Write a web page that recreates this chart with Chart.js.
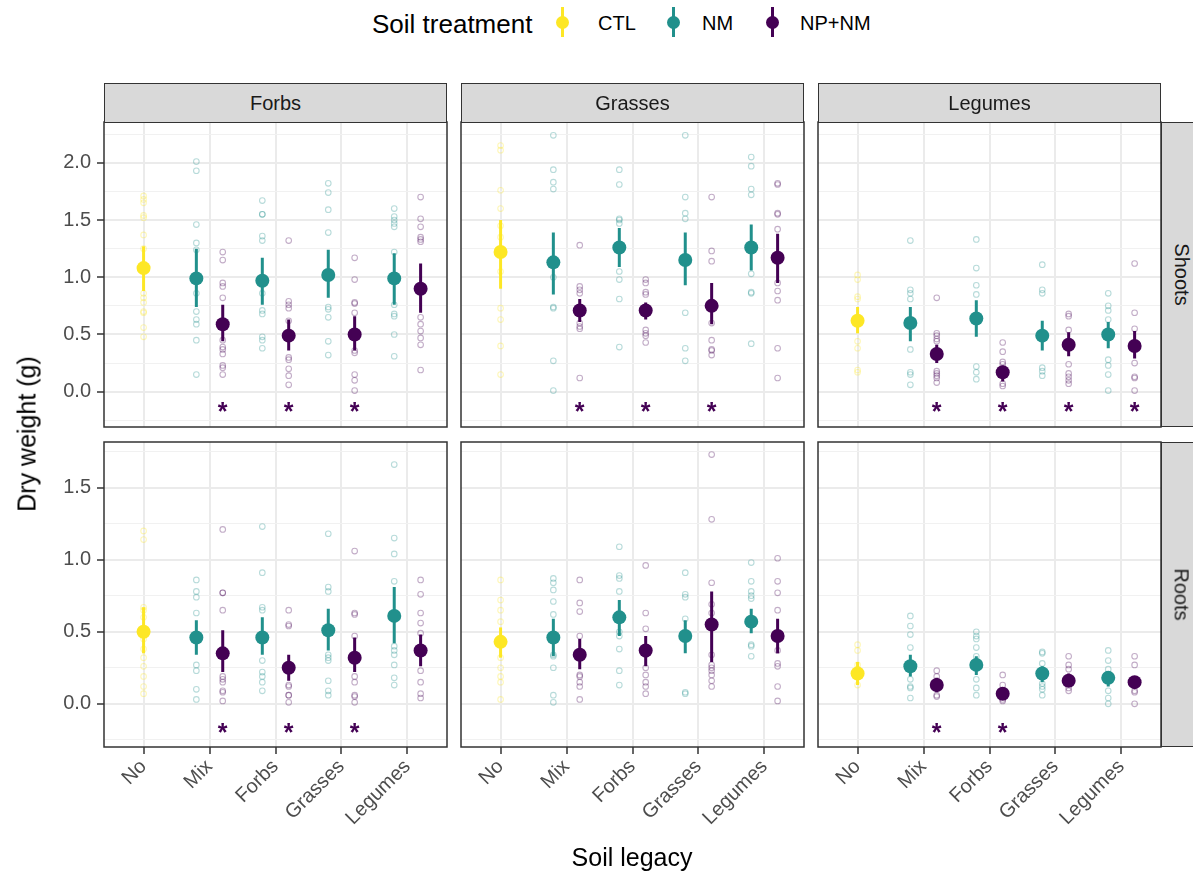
<!DOCTYPE html>
<html>
<head>
<meta charset="utf-8">
<title>Dry weight by soil legacy and treatment</title>
<script src="https://cdn.jsdelivr.net/npm/chart.js@4.4.1/dist/chart.umd.min.js"></script>
<style>
  html, body { margin: 0; padding: 0; background: #ffffff; }
  body { position: relative; width: 1193px; height: 873px; overflow: hidden;
         font-family: "Liberation Sans", Arial, Helvetica, sans-serif; }
  canvas { position: absolute; }
  .strip { position: absolute; box-sizing: border-box; background: #D9D9D9;
           border: 1.5px solid #333333; color: #1A1A1A; font-size: 20px;
           display: flex; align-items: center; justify-content: center; }
  .strip.side span { display: inline-block; transform: rotate(90deg); white-space: nowrap; }
  .title { position: absolute; color: #000; font-size: 25px; white-space: nowrap; }
  .legend-title { position: absolute; left: 372px; top: 9px; font-size: 26px; color: #000; white-space: nowrap; }
  .key { position: absolute; }
  .key .bar { position: absolute; width: 3px; height: 30px; top: 7px; }
  .key .dot { position: absolute; width: 13px; height: 13px; border-radius: 50%; top: 16px; }
  .key-label { position: absolute; top: 12px; font-size: 20px; color: #000; white-space: nowrap; }
</style>
</head>
<body>
<script>
// ---- categories and labels ----
const categories = ['No', 'Mix', 'Forbs', 'Grasses', 'Legumes'];
const treatments = ['CTL', 'NM', 'NP+NM'];
const treatmentColors = ['#FDE725', '#21908C', '#440154'];
const plantGroups = ['Forbs', 'Grasses', 'Legumes'];
const organs = ['Shoots', 'Roots'];
const shootTicks = [0, 0.5, 1, 1.5, 2];
const rootTicks = [0, 0.5, 1, 1.5];
const starLevel = [-0.13, -0.17];

// group order inside every panel
const groupCategory = ['No', 'Mix', 'Mix', 'Forbs', 'Forbs', 'Grasses', 'Grasses', 'Legumes', 'Legumes'];
const groupTreatment = ['CTL', 'NM', 'NP+NM', 'NM', 'NP+NM', 'NM', 'NP+NM', 'NM', 'NP+NM'];

// ---- Shoots / Forbs ----
const shootsForbsMean = [1.08, 0.99, 0.59, 0.97, 0.49, 1.02, 0.50, 0.99, 0.90];
const shootsForbsLow  = [0.88, 0.74, 0.44, 0.76, 0.36, 0.82, 0.36, 0.76, 0.69];
const shootsForbsHigh = [1.27, 1.25, 0.76, 1.17, 0.63, 1.24, 0.66, 1.21, 1.12];
const shootsForbsRaw = [
  [1.71, 1.68, 1.65, 1.54, 1.52, 1.37, 1.25, 1.10, 0.86, 0.82, 0.78, 0.70, 0.69, 0.56, 0.48],
  [2.01, 1.93, 1.46, 1.30, 1.24, 0.86, 0.70, 0.63, 0.59, 0.45, 0.15],
  [1.22, 1.15, 0.95, 0.92, 0.82, 0.45, 0.39, 0.37, 0.33, 0.23, 0.21, 0.15],
  [1.67, 1.55, 1.55, 1.36, 1.32, 0.86, 0.71, 0.68, 0.48, 0.45, 0.38],
  [1.32, 0.79, 0.76, 0.73, 0.62, 0.30, 0.28, 0.20, 0.14, 0.06],
  [1.82, 1.74, 1.59, 1.39, 0.74, 0.72, 0.65, 0.44, 0.32],
  [1.17, 0.98, 0.78, 0.77, 0.69, 0.36, 0.34, 0.15, 0.10, 0.01],
  [1.60, 1.53, 1.50, 1.47, 1.44, 1.22, 0.76, 0.68, 0.66, 0.50, 0.31],
  [1.70, 1.51, 1.44, 1.35, 1.33, 1.31, 0.65, 0.59, 0.53, 0.47, 0.41, 0.19]
];
const shootsForbsStars = ['Mix', 'Forbs', 'Grasses'];

// ---- Shoots / Grasses ----
const shootsGrassesMean = [1.22, 1.13, 0.71, 1.26, 0.71, 1.15, 0.75, 1.26, 1.17];
const shootsGrassesLow  = [0.90, 0.85, 0.61, 1.09, 0.63, 0.93, 0.59, 1.06, 0.95];
const shootsGrassesHigh = [1.50, 1.39, 0.81, 1.43, 0.78, 1.39, 0.95, 1.46, 1.38];
const shootsGrassesRaw = [
  [2.15, 2.11, 1.76, 1.60, 1.45, 1.35, 1.22, 1.05, 0.73, 0.63, 0.40, 0.15],
  [2.24, 1.94, 1.83, 1.77, 1.00, 0.74, 0.73, 0.27, 0.01],
  [1.28, 0.92, 0.89, 0.86, 0.60, 0.57, 0.55, 0.12],
  [1.94, 1.81, 1.51, 1.50, 1.47, 1.05, 0.98, 0.81, 0.39],
  [0.98, 0.95, 0.87, 0.85, 0.54, 0.51, 0.49, 0.43],
  [2.24, 1.70, 1.56, 1.51, 0.69, 0.38, 0.27],
  [1.70, 1.23, 1.14, 0.60, 0.45, 0.37, 0.36, 0.32],
  [2.05, 1.97, 1.77, 1.72, 1.03, 0.87, 0.86, 0.42],
  [1.82, 1.81, 1.56, 1.55, 1.42, 0.95, 0.88, 0.80, 0.38, 0.12]
];
const shootsGrassesStars = ['Mix', 'Forbs', 'Grasses'];

// ---- Shoots / Legumes ----
const shootsLegumesMean = [0.62, 0.60, 0.33, 0.64, 0.17, 0.49, 0.41, 0.50, 0.40];
const shootsLegumesLow  = [0.51, 0.44, 0.25, 0.48, 0.09, 0.36, 0.31, 0.38, 0.29];
const shootsLegumesHigh = [0.74, 0.74, 0.41, 0.80, 0.23, 0.62, 0.52, 0.61, 0.53];
const shootsLegumesRaw = [
  [1.02, 0.98, 0.83, 0.81, 0.44, 0.38, 0.19, 0.17],
  [1.32, 0.89, 0.86, 0.81, 0.37, 0.17, 0.15, 0.06],
  [0.82, 0.51, 0.49, 0.46, 0.44, 0.18, 0.16, 0.14, 0.12, 0.08],
  [1.33, 1.08, 0.93, 0.85, 0.22, 0.17, 0.11],
  [0.43, 0.35, 0.26, 0.24, 0.07, 0.05],
  [1.11, 0.89, 0.86, 0.21, 0.18, 0.14],
  [0.68, 0.66, 0.54, 0.24, 0.16, 0.13, 0.10, 0.07],
  [0.86, 0.75, 0.71, 0.63, 0.28, 0.23, 0.15, 0.01],
  [1.12, 0.69, 0.55, 0.25, 0.13, 0.12, 0.01]
];
const shootsLegumesStars = ['Mix', 'Forbs', 'Grasses', 'Legumes'];

// ---- Roots / Forbs ----
const rootsForbsMean = [0.50, 0.46, 0.35, 0.46, 0.25, 0.51, 0.32, 0.61, 0.37];
const rootsForbsLow  = [0.35, 0.34, 0.22, 0.34, 0.16, 0.37, 0.22, 0.42, 0.26];
const rootsForbsHigh = [0.67, 0.58, 0.51, 0.60, 0.34, 0.66, 0.46, 0.81, 0.48];
const rootsForbsRaw = [
  [1.20, 1.14, 0.67, 0.65, 0.60, 0.45, 0.38, 0.32, 0.26, 0.19, 0.12, 0.07],
  [0.86, 0.78, 0.74, 0.63, 0.27, 0.23, 0.10, 0.03],
  [1.21, 0.77, 0.77, 0.65, 0.19, 0.17, 0.15, 0.09, 0.08, 0.02],
  [1.23, 0.91, 0.67, 0.65, 0.30, 0.22, 0.19, 0.15, 0.09],
  [0.65, 0.55, 0.54, 0.13, 0.12, 0.06, 0.06, 0.01],
  [1.18, 0.81, 0.78, 0.34, 0.32, 0.30, 0.16, 0.09, 0.06],
  [1.06, 0.63, 0.62, 0.47, 0.19, 0.15, 0.06, 0.05, 0.01],
  [1.66, 1.15, 1.04, 0.85, 0.40, 0.37, 0.34, 0.27, 0.18, 0.13],
  [0.86, 0.76, 0.63, 0.56, 0.49, 0.23, 0.15, 0.07, 0.04]
];
const rootsForbsStars = ['Mix', 'Forbs', 'Grasses'];

// ---- Roots / Grasses ----
const rootsGrassesMean = [0.43, 0.46, 0.34, 0.60, 0.37, 0.47, 0.55, 0.57, 0.47];
const rootsGrassesLow  = [0.32, 0.33, 0.24, 0.47, 0.26, 0.35, 0.29, 0.49, 0.35];
const rootsGrassesHigh = [0.53, 0.59, 0.45, 0.72, 0.47, 0.58, 0.78, 0.66, 0.59];
const rootsGrassesRaw = [
  [0.86, 0.72, 0.65, 0.57, 0.32, 0.25, 0.19, 0.15, 0.03],
  [0.87, 0.84, 0.79, 0.71, 0.62, 0.34, 0.33, 0.25, 0.06, 0.01],
  [0.86, 0.70, 0.64, 0.47, 0.20, 0.19, 0.15, 0.12, 0.03],
  [1.09, 0.89, 0.87, 0.78, 0.50, 0.47, 0.38, 0.23, 0.13],
  [0.96, 0.63, 0.52, 0.34, 0.25, 0.20, 0.15, 0.12, 0.07],
  [0.91, 0.76, 0.74, 0.59, 0.08, 0.07],
  [1.73, 1.28, 0.84, 0.69, 0.63, 0.34, 0.27, 0.25, 0.23, 0.20, 0.16, 0.12],
  [0.98, 0.85, 0.78, 0.75, 0.73, 0.41, 0.40, 0.33],
  [1.01, 0.85, 0.77, 0.65, 0.37, 0.28, 0.26, 0.12, 0.02]
];
const rootsGrassesStars = [];

// ---- Roots / Legumes ----
const rootsLegumesMean = [0.21, 0.26, 0.13, 0.27, 0.07, 0.21, 0.16, 0.18, 0.15];
const rootsLegumesLow  = [0.13, 0.19, 0.08, 0.20, 0.03, 0.15, 0.12, 0.12, 0.11];
const rootsLegumesHigh = [0.29, 0.34, 0.18, 0.33, 0.10, 0.26, 0.21, 0.22, 0.18];
const rootsLegumesRaw = [
  [0.41, 0.37, 0.27, 0.24, 0.19, 0.13],
  [0.61, 0.54, 0.48, 0.39, 0.17, 0.12, 0.11, 0.04],
  [0.23, 0.19, 0.06, 0.05],
  [0.50, 0.47, 0.45, 0.39, 0.33, 0.17, 0.11, 0.06],
  [0.20, 0.13, 0.03, 0.02],
  [0.36, 0.35, 0.28, 0.14, 0.12, 0.10, 0.06],
  [0.33, 0.27, 0.24, 0.11, 0.09],
  [0.37, 0.30, 0.24, 0.09, 0.04, 0.00],
  [0.33, 0.27, 0.09, 0.08, 0.00]
];
const rootsLegumesStars = ['Mix', 'Forbs'];

// ---- facet layout ----
const COL_LEFT = [104, 461, 818];
const COL_W = 343;
const ROW_TOP = [122, 442];
const ROW_H = 305;
const ROW_RANGE = [[-0.308, 2.356], [-0.300, 1.817]];
const MARGIN = 20;
const DODGE = { 'CTL': 0, 'NM': -0.2, 'NP+NM': 0.2 };

const panels = [
  { row: 0, col: 0, mean: shootsForbsMean, low: shootsForbsLow, high: shootsForbsHigh, raw: shootsForbsRaw, stars: shootsForbsStars },
  { row: 0, col: 1, mean: shootsGrassesMean, low: shootsGrassesLow, high: shootsGrassesHigh, raw: shootsGrassesRaw, stars: shootsGrassesStars },
  { row: 0, col: 2, mean: shootsLegumesMean, low: shootsLegumesLow, high: shootsLegumesHigh, raw: shootsLegumesRaw, stars: shootsLegumesStars },
  { row: 1, col: 0, mean: rootsForbsMean, low: rootsForbsLow, high: rootsForbsHigh, raw: rootsForbsRaw, stars: rootsForbsStars },
  { row: 1, col: 1, mean: rootsGrassesMean, low: rootsGrassesLow, high: rootsGrassesHigh, raw: rootsGrassesRaw, stars: rootsGrassesStars },
  { row: 1, col: 2, mean: rootsLegumesMean, low: rootsLegumesLow, high: rootsLegumesHigh, raw: rootsLegumesRaw, stars: rootsLegumesStars }
];

Chart.defaults.font.family = '"Liberation Sans", Arial, Helvetica, sans-serif';

function hexToRgba(hex, a) {
  const n = parseInt(hex.slice(1), 16);
  return 'rgba(' + ((n >> 16) & 255) + ',' + ((n >> 8) & 255) + ',' + (n & 255) + ',' + a + ')';
}
function isMajor(v) { return Math.abs(v * 2 - Math.round(v * 2)) < 1e-6; }
function gridTicks(majors, range) {
  // majors plus the quarter steps between and beyond them
  const step = (majors[1] - majors[0]) / 2;
  const out = [];
  for (let k = Math.ceil(range[0] / step); k * step <= range[1] + 1e-9; k++) out.push(Math.round(k * step * 1000) / 1000);
  return out;
}

// panel border on top of everything
const framePlugin = {
  id: 'panelFrame',
  afterDraw(chart) {
    const a = chart.chartArea, ctx = chart.ctx;
    ctx.save();
    ctx.strokeStyle = '#333333';
    ctx.lineWidth = 1.5;
    ctx.strokeRect(a.left, a.top, a.right - a.left, a.bottom - a.top);
    ctx.restore();
  }
};

// significance asterisks under the NP+NM groups
const starPlugin = {
  id: 'stars',
  afterDatasetsDraw(chart, args, opts) {
    const ctx = chart.ctx, xs = chart.scales.x, ys = chart.scales.y;
    ctx.save();
    ctx.fillStyle = treatmentColors[2];
    ctx.font = 'bold 25px "Liberation Sans", Arial, sans-serif';
    ctx.textAlign = 'center';
    ctx.textBaseline = 'alphabetic';
    const m = ctx.measureText('*');
    const shift = (m.actualBoundingBoxAscent - m.actualBoundingBoxDescent) / 2;
    opts.stars.forEach(name => {
      const px = xs.getPixelForValue(categories.indexOf(name) + DODGE['NP+NM']);
      const py = ys.getPixelForValue(opts.level);
      ctx.fillText('*', px, py + shift);
    });
    ctx.restore();
  }
};

function buildPanel(p) {
  const padL = p.col === 0 ? 70 : 0;
  const padB = p.row === 1 ? 90 : 0;
  const w = MARGIN + padL + COL_W + MARGIN;
  const h = MARGIN + ROW_H + padB + MARGIN;
  const canvas = document.createElement('canvas');
  canvas.width = w; canvas.height = h;
  canvas.style.width = w + 'px'; canvas.style.height = h + 'px';
  canvas.style.left = (COL_LEFT[p.col] - padL - MARGIN) + 'px';
  canvas.style.top = (ROW_TOP[p.row] - MARGIN) + 'px';
  document.body.appendChild(canvas);

  const range = ROW_RANGE[p.row];
  const yTickValues = gridTicks(p.row === 0 ? shootTicks : rootTicks, range);

  const datasets = [];
  treatments.forEach((t, ti) => {
    const rawPts = [], barPts = [], meanPts = [];
    groupTreatment.forEach((gt, gi) => {
      if (gt !== t) return;
      const x = categories.indexOf(groupCategory[gi]) + DODGE[t];
      p.raw[gi].forEach(v => rawPts.push({ x: x, y: v }));
      barPts.push({ x: x, y: p.low[gi] }, { x: x, y: p.high[gi] }, { x: x, y: null });
      meanPts.push({ x: x, y: p.mean[gi] });
    });
    const col = treatmentColors[ti];
    datasets.push({
      label: t + ' raw', data: rawPts, order: 30 + ti,
      pointRadius: 2.8, pointBorderWidth: 1.1, pointBackgroundColor: 'rgba(0,0,0,0)',
      pointBorderColor: hexToRgba(col, 0.32), showLine: false
    });
    datasets.push({
      label: t + ' interval', data: barPts, order: 20 + ti,
      showLine: true, spanGaps: false, borderColor: col, borderWidth: 3,
      borderCapStyle: 'butt', pointRadius: 0, pointHoverRadius: 0
    });
    datasets.push({
      label: t + ' mean', data: meanPts, order: 10 + ti,
      pointRadius: 7, pointBorderWidth: 0, pointBackgroundColor: col,
      pointBorderColor: col, showLine: false
    });
  });

  new Chart(canvas, {
    type: 'scatter',
    data: { datasets: datasets },
    options: {
      responsive: false, animation: false, devicePixelRatio: 1,
      layout: { padding: MARGIN },
      events: [],
      plugins: {
        legend: { display: false }, tooltip: { enabled: false },
        stars: { stars: p.stars, level: starLevel[p.row] }
      },
      scales: {
        x: {
          type: 'linear', min: -0.6, max: 4.6,
          afterBuildTicks: s => { s.ticks = categories.map((c, i) => ({ value: i })); },
          afterFit: s => { s.height = padB; },
          ticks: {
            display: p.row === 1, autoSkip: false, minRotation: 45, maxRotation: 45,
            callback: v => categories[Math.round(v)], color: '#4D4D4D',
            font: { size: 20 }, padding: 1
          },
          grid: { color: '#EBEBEB', lineWidth: 2, drawTicks: p.row === 1, tickLength: 7,
                  tickColor: '#333333', tickWidth: 1.5 },
          border: { display: false }
        },
        y: {
          type: 'linear', min: range[0], max: range[1],
          afterBuildTicks: s => { s.ticks = yTickValues.map(v => ({ value: v })); },
          afterFit: s => { s.width = padL; },
          ticks: {
            display: p.col === 0, color: '#4D4D4D', font: { size: 20 }, padding: 6,
            callback: v => isMajor(v) ? Number(v).toFixed(1) : ''
          },
          grid: {
            color: c => (c.tick && isMajor(c.tick.value)) ? '#EBEBEB' : '#F1F1F1',
            lineWidth: c => (c.tick && isMajor(c.tick.value)) ? 2 : 1,
            drawTicks: p.col === 0, tickLength: 7, tickWidth: 1.5,
            tickColor: c => (c.tick && isMajor(c.tick.value)) ? '#333333' : 'rgba(0,0,0,0)'
          },
          border: { display: false }
        }
      }
    },
    plugins: [framePlugin, starPlugin]
  });
}

panels.forEach(buildPanel);

// ---- strips, titles and legend ----
function addDiv(cls, text, style) {
  const d = document.createElement('div');
  d.className = cls;
  if (cls.indexOf('side') >= 0) { const s = document.createElement('span'); s.textContent = text; d.appendChild(s); }
  else d.textContent = text;
  Object.assign(d.style, style);
  document.body.appendChild(d);
  return d;
}

plantGroups.forEach((g, i) => addDiv('strip', g, {
  left: COL_LEFT[i] + 'px', top: '83px', width: COL_W + 'px', height: (ROW_TOP[0] - 83 + 1) + 'px'
}));
organs.forEach((o, i) => addDiv('strip side', o, {
  left: (COL_LEFT[2] + COL_W) + 'px', top: ROW_TOP[i] + 'px', width: '40px', height: ROW_H + 'px'
}));

const yTitle = addDiv('title', 'Dry weight (g)', {});
yTitle.style.left = '27px'; yTitle.style.top = '434px';
yTitle.style.transform = 'translate(-50%, -50%) rotate(-90deg)';
const xTitle = addDiv('title', 'Soil legacy', {});
xTitle.style.left = '632px'; xTitle.style.top = '857px';
xTitle.style.transform = 'translate(-50%, -50%)';

addDiv('legend-title', 'Soil treatment', {});
const keyX = [562, 673, 772];
const labelX = [598, 702, 800];
treatments.forEach((t, i) => {
  const k = document.createElement('div');
  k.className = 'key';
  k.style.left = keyX[i] + 'px'; k.style.top = '0px';
  const bar = document.createElement('div');
  bar.className = 'bar'; bar.style.left = '-1.5px'; bar.style.background = treatmentColors[i];
  const dot = document.createElement('div');
  dot.className = 'dot'; dot.style.left = '-6.5px'; dot.style.background = treatmentColors[i];
  k.appendChild(bar); k.appendChild(dot);
  document.body.appendChild(k);
  addDiv('key-label', t, { left: labelX[i] + 'px' });
});
</script>
</body>
</html>
